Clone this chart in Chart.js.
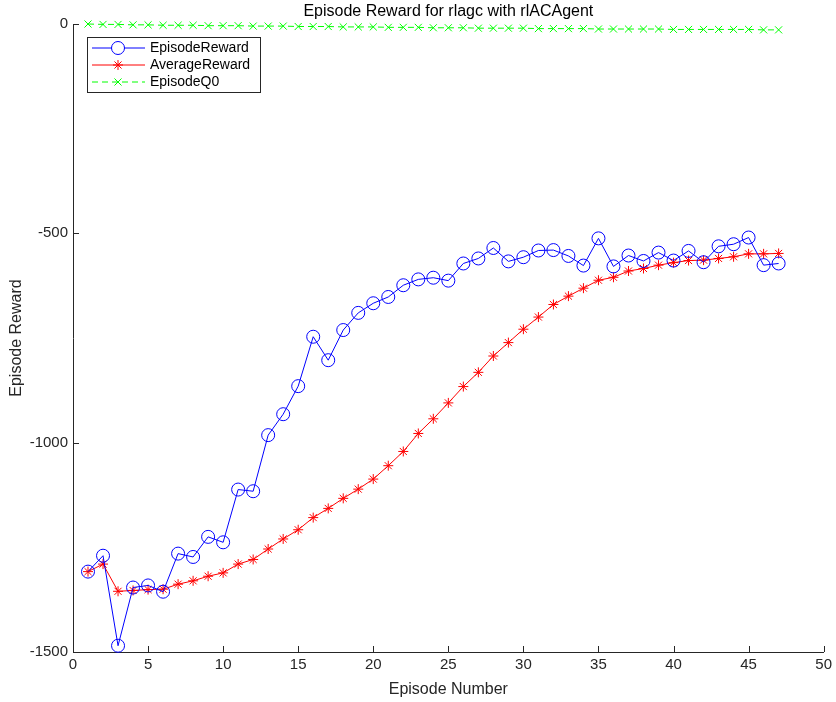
<!DOCTYPE html>
<html>
<head>
<meta charset="utf-8">
<script src="https://cdn.jsdelivr.net/npm/chart.js@4.4.1/dist/chart.umd.min.js"></script>
<style>
  html, body { margin: 0; padding: 0; background: #ffffff; }
  #wrap { width: 836px; height: 702px; }
</style>
</head>
<body>
<div id="wrap"><canvas id="c" width="836" height="702"></canvas></div>
<script>
// Training history: one entry per episode
const episodes = [1,2,3,4,5,6,7,8,9,10,11,12,13,14,15,16,17,18,19,20,21,22,23,24,25,26,27,28,29,30,31,32,33,34,35,36,37,38,39,40,41,42,43,44,45,46,47];

const episodeReward = [
  -1308, -1270, -1485, -1346, -1341, -1356, -1265, -1273, -1225, -1238,
  -1112, -1116, -982, -932, -865, -747, -803, -731, -690, -667,
  -652, -624, -610, -606, -613, -572, -560, -535, -567, -557,
  -541, -540, -554, -577, -512, -579, -553, -566, -546, -565,
  -542, -569, -531, -526, -510, -576, -572
];

const averageReward = [
  -1308, -1290, -1355, -1353, -1351, -1350, -1338, -1330, -1319, -1311,
  -1290, -1279, -1254, -1230, -1208, -1179, -1157, -1133, -1111, -1087,
  -1055, -1021, -978, -943, -905, -866, -832, -793, -761, -729,
  -700, -670, -650, -631, -612, -605, -590, -584, -576, -570,
  -565, -564, -560, -556, -549, -549, -548
];

const episodeQ0 = [
  0, -1, -1, -2, -2, -3, -3, -3, -4, -4,
  -4, -5, -5, -5, -6, -6, -6, -7, -7, -7,
  -8, -8, -8, -9, -9, -9, -10, -10, -10, -10,
  -11, -11, -11, -11, -12, -12, -12, -12, -12, -13,
  -13, -13, -13, -13, -13, -14, -14
];

const xTicks = [0, 5, 10, 15, 20, 25, 30, 35, 40, 45, 50];
const yTicks = [-1500, -1000, -500, 0];

const titleText = 'Episode Reward for rlagc with rlACAgent';
const xLabel = 'Episode Number';
const yLabel = 'Episode Reward';

const FONT = '"Liberation Sans", Arial, Helvetica, sans-serif';
const AXIS_COLOR = '#262626';

const toPoints = ys => episodes.map((e, i) => ({ x: e, y: ys[i] }));

// Inward tick marks and title, drawn over the plot like a MATLAB axes
const axesDecor = {
  id: 'axesDecor',
  afterDraw(chart) {
    const { ctx, chartArea, scales } = chart;
    const len = 6;
    ctx.save();
    ctx.strokeStyle = AXIS_COLOR;
    ctx.lineWidth = 1;
    ctx.beginPath();
    xTicks.forEach(v => {
      const px = Math.round(scales.x.getPixelForValue(v)) + 0.5;
      ctx.moveTo(px, chartArea.bottom);
      ctx.lineTo(px, chartArea.bottom - len);
    });
    yTicks.forEach(v => {
      const py = Math.round(scales.y.getPixelForValue(v)) + 0.5;
      ctx.moveTo(chartArea.left, py);
      ctx.lineTo(chartArea.left + len, py);
    });
    ctx.stroke();

    ctx.fillStyle = '#000000';
    ctx.font = '16px ' + FONT;
    ctx.textAlign = 'center';
    ctx.textBaseline = 'middle';
    ctx.fillText(titleText, (chartArea.left + chartArea.right) / 2, 12);
    ctx.restore();
  }
};

// Boxed legend in the upper-left corner of the axes
const boxLegend = {
  id: 'boxLegend',
  afterDraw(chart) {
    const { ctx, chartArea } = chart;
    const x0 = chartArea.left + 14, y0 = chartArea.top + 13;
    const w = 173, h = 55, rowH = 17;
    ctx.save();
    ctx.fillStyle = '#ffffff';
    ctx.fillRect(x0, y0, w, h);
    ctx.strokeStyle = AXIS_COLOR;
    ctx.lineWidth = 1;
    ctx.strokeRect(x0 + 0.5, y0 + 0.5, w, h);
    chart.data.datasets.forEach((ds, i) => {
      const cy = y0 + 11 + i * rowH;
      ctx.strokeStyle = ds.borderColor;
      ctx.lineWidth = 1;
      ctx.setLineDash(ds.borderDash || []);
      ctx.beginPath();
      ctx.moveTo(x0 + 5, cy);
      ctx.lineTo(x0 + 58, cy);
      ctx.stroke();
      ctx.setLineDash([]);
      Chart.helpers.drawPoint(ctx, {
        pointStyle: ds.pointStyle,
        radius: ds.pointRadius,
        borderWidth: 1
      }, x0 + 31, cy);
      ctx.fillStyle = '#000000';
      ctx.font = '14px ' + FONT;
      ctx.textAlign = 'left';
      ctx.textBaseline = 'middle';
      ctx.fillText(ds.label, x0 + 63, cy);
    });
    ctx.restore();
  }
};

new Chart(document.getElementById('c'), {
  type: 'line',
  data: {
    datasets: [
      {
        label: 'EpisodeReward',
        data: toPoints(episodeReward),
        borderColor: '#0000ff',
        backgroundColor: 'rgba(0,0,0,0)',
        borderWidth: 1,
        pointStyle: 'circle',
        pointRadius: 6.5,
        pointBorderWidth: 1,
        pointBorderColor: '#0000ff',
        pointBackgroundColor: 'rgba(0,0,0,0)',
        tension: 0,
        clip: false
      },
      {
        label: 'AverageReward',
        data: toPoints(averageReward),
        borderColor: '#ff0000',
        backgroundColor: 'rgba(0,0,0,0)',
        borderWidth: 1,
        pointStyle: 'star',
        pointRadius: 5,
        pointBorderWidth: 1,
        pointBorderColor: '#ff0000',
        pointBackgroundColor: 'rgba(0,0,0,0)',
        tension: 0,
        clip: false
      },
      {
        label: 'EpisodeQ0',
        data: toPoints(episodeQ0),
        borderColor: '#00ff00',
        backgroundColor: 'rgba(0,0,0,0)',
        borderWidth: 1,
        borderDash: [6, 4],
        pointStyle: 'crossRot',
        pointRadius: 5,
        pointBorderWidth: 1,
        pointBorderColor: '#00ff00',
        pointBackgroundColor: 'rgba(0,0,0,0)',
        tension: 0,
        clip: false
      }
    ]
  },
  options: {
    responsive: false,
    animation: false,
    layout: { padding: { top: 24, right: 12, left: 0, bottom: 0 } },
    plugins: {
      legend: { display: false },
      title: { display: false },
      tooltip: { enabled: false }
    },
    scales: {
      x: {
        type: 'linear',
        min: 0,
        max: 50,
        afterFit(scale) { scale.height = 50; },
        afterBuildTicks(scale) { scale.ticks = xTicks.map(v => ({ value: v })); },
        grid: { display: false, drawTicks: false },
        border: { display: true, color: AXIS_COLOR, width: 1 },
        ticks: { color: AXIS_COLOR, font: { family: FONT, size: 15 }, padding: 4, maxRotation: 0,
                 callback: v => String(v) },
        title: { display: true, text: xLabel, color: AXIS_COLOR, font: { family: FONT, size: 16 }, padding: { top: 0, bottom: 3 } }
      },
      y: {
        type: 'linear',
        min: -1500,
        max: 0,
        afterFit(scale) { scale.width = 73; },
        afterBuildTicks(scale) { scale.ticks = yTicks.map(v => ({ value: v })); },
        grid: { display: false, drawTicks: false },
        border: { display: true, color: AXIS_COLOR, width: 1 },
        ticks: { color: AXIS_COLOR, font: { family: FONT, size: 15 }, padding: 5,
                 callback: v => String(v) },
        title: { display: true, text: yLabel, color: AXIS_COLOR, font: { family: FONT, size: 16 }, padding: { top: 7, bottom: 0 } }
      }
    }
  },
  plugins: [axesDecor, boxLegend]
});
</script>
</body>
</html>
